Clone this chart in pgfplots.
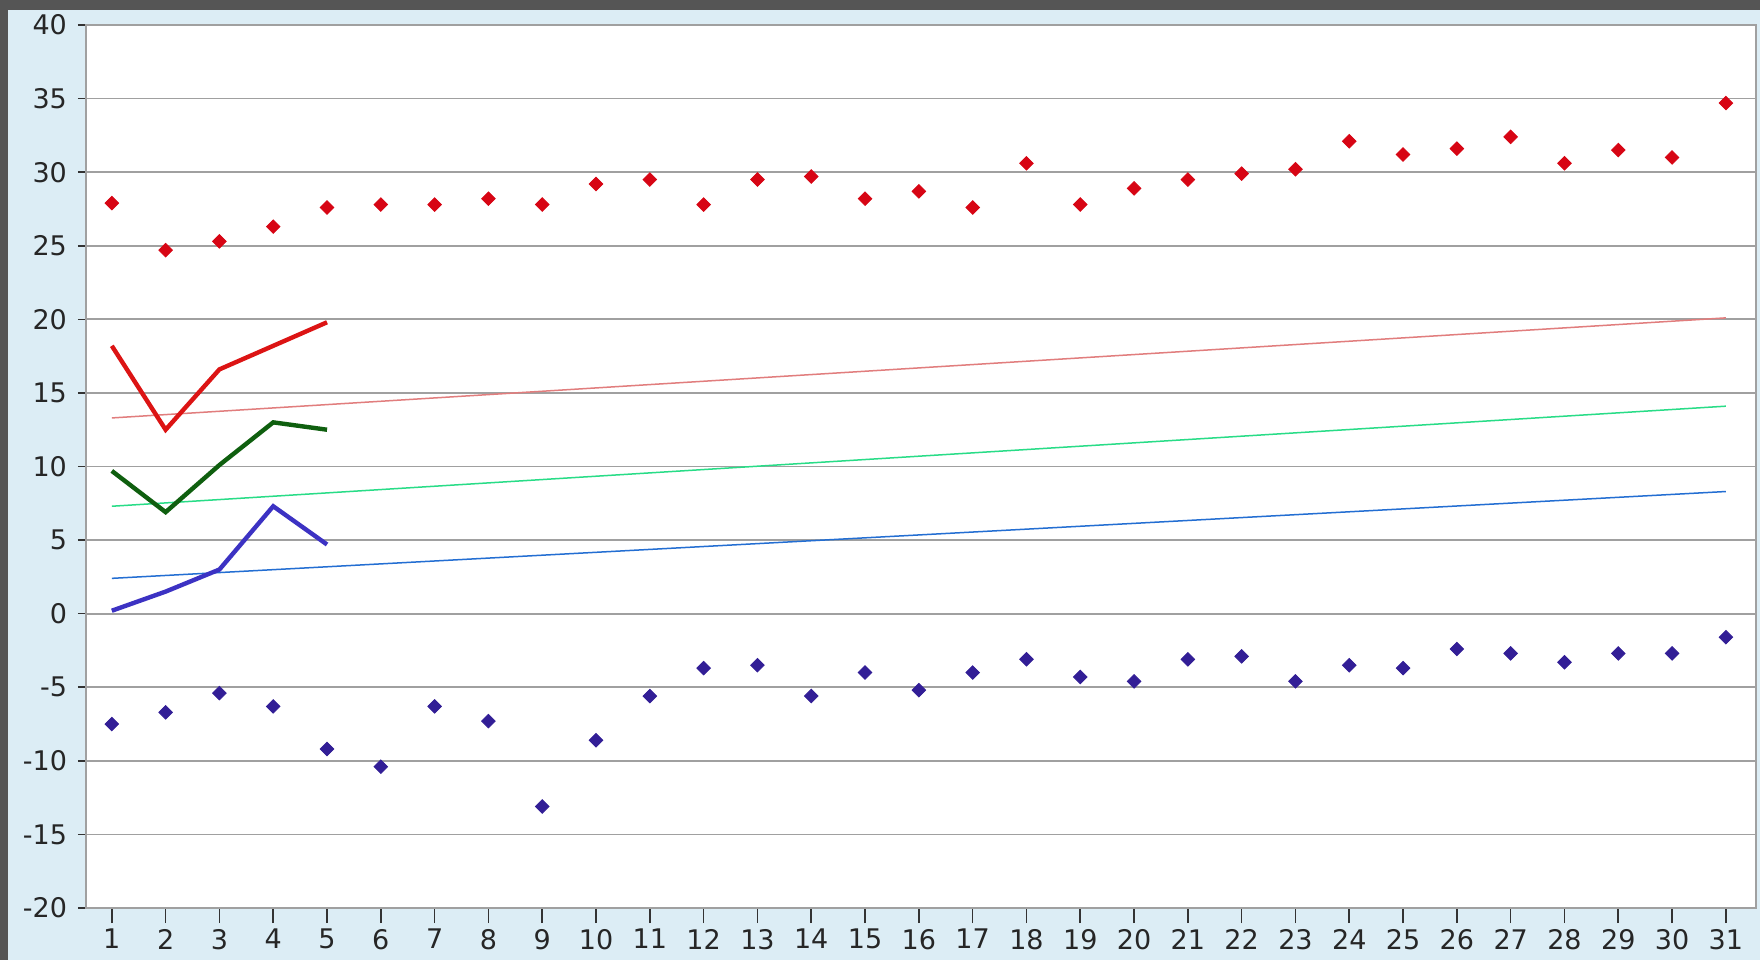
\documentclass[border=0pt]{standalone}
\usepackage{pgfplots}
\pgfplotsset{compat=1.18}
\usepackage{fontspec}
\setmainfont{DejaVu Sans}
\definecolor{frame}{RGB}{85,85,85}
\definecolor{lblue}{RGB}{220,237,245}
\definecolor{gridc}{RGB}{160,160,160}
\definecolor{redpt}{RGB}{215,5,20}
\definecolor{bluept}{RGB}{50,30,150}
\definecolor{redln}{RGB}{220,20,20}
\definecolor{grnln}{RGB}{15,95,15}
\definecolor{bluln}{RGB}{60,50,195}
\definecolor{redtr}{RGB}{225,125,125}
\definecolor{grntr}{RGB}{40,220,135}
\definecolor{blutr}{RGB}{35,110,210}
\begin{document}
\begin{tikzpicture}
\fill[lblue] (-43pt,-26pt) rectangle (837pt,454pt);
\fill[frame] (-43pt,449pt) rectangle (837pt,454pt);
\fill[frame] (-43pt,-26pt) rectangle (-39pt,454pt);
\begin{axis}[
  at={(0,0)}, anchor=south west,
  scale only axis, width=835pt, height=441.5pt,
  xmin=0.52, xmax=31.56, ymin=-20, ymax=40,
  xtick={1,...,31}, ytick={-20,-15,...,40},
  axis background/.style={fill=white},
  axis line style={gridc, line width=0.9pt},
  ymajorgrids, grid style={gridc, line width=0.9pt},
  tick style={black!80, line width=0.8pt},
  major tick length=4pt,
  xtick style={/pgfplots/major tick length=7.5pt},
  tick align=outside, xtick pos=bottom, ytick pos=left,
  ticklabel style={font=\fontsize{13.5}{16}\selectfont, text=black!85},
  yticklabel style={xshift=-2pt},
  xticklabel style={yshift=-3pt},
  /pgf/number format/assume math mode=true,
  clip=false,
]
% trend lines
\addplot[redtr, line width=0.75pt] coordinates {(1,13.3) (31,20.1)};
\addplot[grntr, line width=0.75pt] coordinates {(1,7.3) (31,14.1)};
\addplot[blutr, line width=0.75pt] coordinates {(1,2.4) (31,8.3)};
% thick lines
\addplot[redln, line width=2.2pt] coordinates {(1,18.2) (2,12.5) (3,16.6) (4,18.2) (5,19.8)};
\addplot[grnln, line width=2.2pt] coordinates {(1,9.7) (2,6.9) (3,10.1) (4,13.0) (5,12.5)};
\addplot[bluln, line width=2.2pt] coordinates {(1,0.2) (2,1.5) (3,3.0) (4,7.3) (5,4.7)};
% max points
\addplot[only marks, mark=square*, mark size=2.4pt, redpt, mark options={fill=redpt, rotate=45}] coordinates {
(1,27.9) (2,24.7) (3,25.3) (4,26.3) (5,27.6) (6,27.8) (7,27.8) (8,28.2) (9,27.8) (10,29.2)
(11,29.5) (12,27.8) (13,29.5) (14,29.7) (15,28.2) (16,28.7) (17,27.6) (18,30.6) (19,27.8) (20,28.9)
(21,29.5) (22,29.9) (23,30.2) (24,32.1) (25,31.2) (26,31.6) (27,32.4) (28,30.6) (29,31.5) (30,31.0) (31,34.7)};
% min points
\addplot[only marks, mark=square*, mark size=2.4pt, bluept, mark options={fill=bluept, rotate=45}] coordinates {
(1,-7.5) (2,-6.7) (3,-5.4) (4,-6.3) (5,-9.2) (6,-10.4) (7,-6.3) (8,-7.3) (9,-13.1) (10,-8.6)
(11,-5.6) (12,-3.7) (13,-3.5) (14,-5.6) (15,-4.0) (16,-5.2) (17,-4.0) (18,-3.1) (19,-4.3) (20,-4.6)
(21,-3.1) (22,-2.9) (23,-4.6) (24,-3.5) (25,-3.7) (26,-2.4) (27,-2.7) (28,-3.3) (29,-2.7) (30,-2.7) (31,-1.6)};
\end{axis}
\pgfresetboundingbox
\useasboundingbox (-43pt,-26pt) rectangle (837pt,454pt);
\end{tikzpicture}
\end{document}
